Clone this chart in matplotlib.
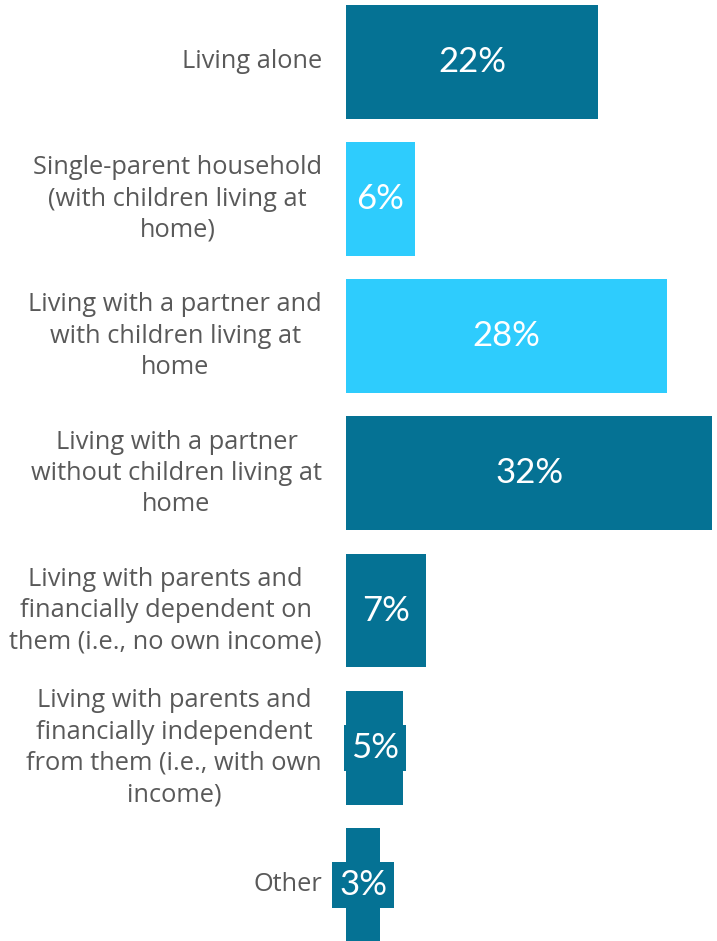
import matplotlib.pyplot as plt

categories = [
    "Living alone",
    "Single-parent household\n(with children living at\nhome)",
    "Living with a partner and\nwith children living at\nhome",
    "Living with a partner\nwithout children living at\nhome",
    "Living with parents and\nfinancially dependent on\nthem (i.e., no own income)",
    "Living with parents and\nfinancially independent\nfrom them (i.e., with own\nincome)",
    "Other",
]
shares = [22, 6, 28, 32, 7, 5, 3]
highlight = [False, True, True, False, False, False, False]

dark = "#057294"
light = "#2ECCFD"

fig = plt.figure(figsize=(7.17, 9.41), dpi=100)
ax = fig.add_axes([346 / 717, 0, 1 - 346 / 717, 1])

y = list(range(len(categories)))
colors = [light if h else dark for h in highlight]
ax.barh(y, shares, height=0.83, color=colors)

for i, (cat, val, c) in enumerate(zip(categories, shares, colors)):
    # category text sits left of the bar, centred line by line
    ax.annotate(cat, xy=(0, i), xytext=(-24, 0), textcoords="offset pixels",
                ha="right", va="center", multialignment="center",
                fontsize=18.3, color="#595959", family="Open Sans", linespacing=1.33,
                annotation_clip=False)
    ax.text(val / 2, i, f"{val}%", ha="center", va="center",
            fontsize=25, color="white", family="Lato",
            bbox=dict(boxstyle="square,pad=0.2", fc=c, ec="none"))

ax.set_xlim(0, 32.4)
ax.set_ylim(6.41, -0.452)
ax.axis("off")

fig.savefig("out.png", dpi=100)
